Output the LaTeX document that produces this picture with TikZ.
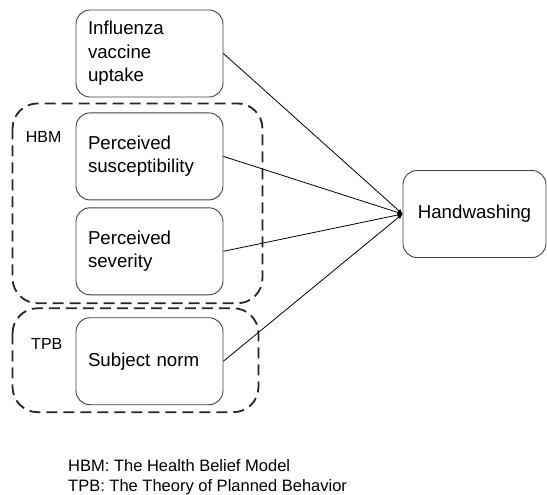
\documentclass[tikz,border=0pt]{standalone}
\usepackage{fontspec}
\setmainfont{Liberation Sans}
\usetikzlibrary{arrows.meta,positioning,calc}
\tikzset{
  var_box/.style={rectangle,rounded corners=14pt,
    draw=black!75,line width=0.9pt,
    text width=123pt,inner xsep=12pt,align=left,
    minimum height=87pt,
    font=\fontsize{18.7}{23.5}\selectfont},
  out_box/.style={var_box,text width=119pt,align=center},
  grp_box/.style={draw=black!85,line width=1.8pt,
    dash pattern=on 11pt off 6pt,rounded corners=25pt},
  grp_lbl/.style={inner sep=0pt,font=\fontsize{16}{18}\selectfont},
  arr/.style={-{Latex[length=5pt,width=4.5pt]},line width=0.8pt},
}
\begin{document}
\begin{tikzpicture}[x=1pt,y=-1pt]
  \useasboundingbox (0,0) rectangle (547,495);

  % --- Predictors (left column) ---
  \node (flu)  [var_box] at (149.5,53.5) {Influenza\\vaccine\\uptake};
  \node (sus)  [var_box, below=15pt of flu] {Perceived\\susceptibility};
  \node (sev)  [var_box, below=7pt of sus]  {Perceived\\severity};
  \node (norm) [var_box, below=22pt of sev] {Subject norm};

  % --- Outcome ---
  \node (hw) [out_box] at (474.5,214) {Handwashing};

  % --- Theory groups ---
  \draw[grp_box] ($(sus.north west)+(-63,-9)$) rectangle ($(sev.south east)+(39,8)$);
  \node (hbm) [grp_lbl, anchor=east] at ($(sus.north west)+(-14,25)$) {HBM};
  \draw[grp_box] ($(norm.north west)+(-63,-9)$) rectangle ($(norm.south east)+(35,7)$);
  \node (tpb) [grp_lbl, anchor=east] at ($(norm.north west)+(-13,27)$) {TPB};

  % --- Arrows ---
  \foreach \src in {flu,sus,sev,norm}
    \draw[arr] (\src.east) -- (hw.west);

  % --- Legend ---
  \node (legend) [anchor=west, align=left, inner sep=0pt,
                  font=\fontsize{16.5}{20}\selectfont] at (68,477)
    {HBM: The Health Belief Model\\TPB: The Theory of Planned Behavior};
\end{tikzpicture}
\end{document}
